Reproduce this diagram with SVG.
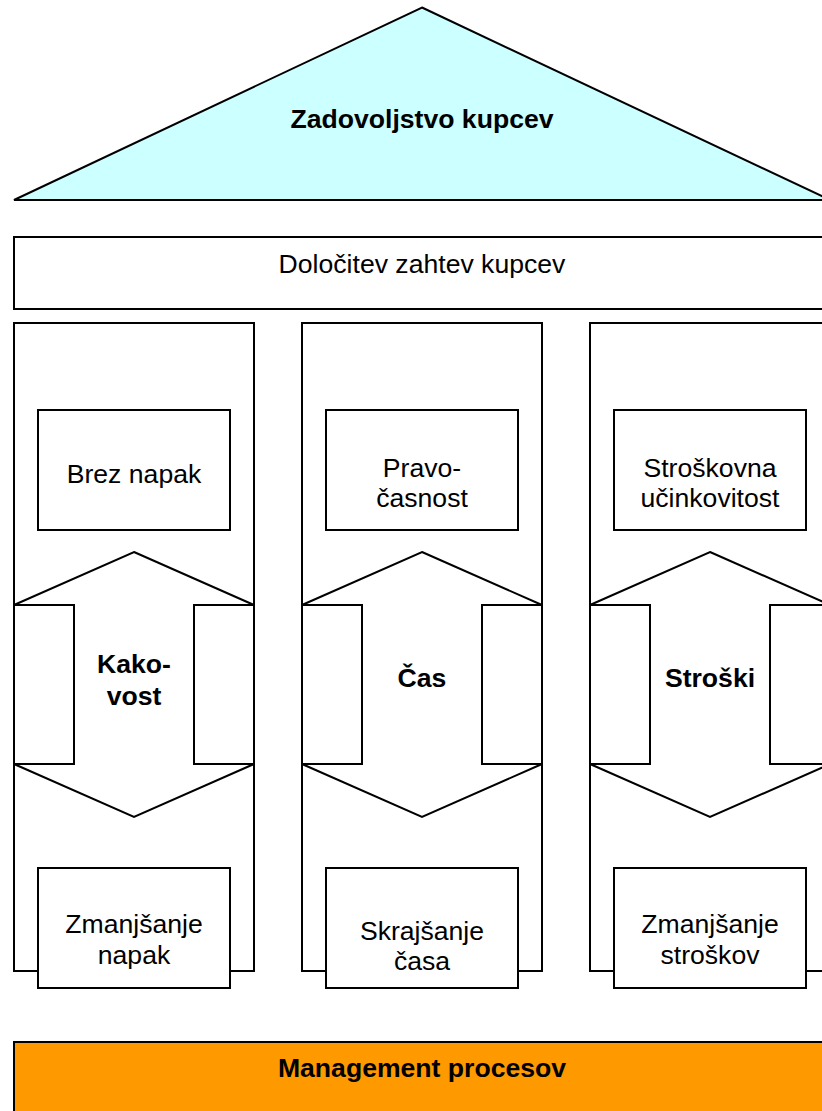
<svg xmlns="http://www.w3.org/2000/svg" width="822" height="1111" viewBox="0 0 822 1111">
<style>
.s{stroke:#000;stroke-width:2;fill:#fff}
.t{font-family:"Liberation Sans",Arial,sans-serif;font-size:26.6px;fill:#000;text-anchor:middle}
.b{font-weight:bold}
</style>
<rect width="822" height="1111" fill="#fff"/>
<g id="roof">
<polygon points="422,7.5 830,200 14,200" fill="#CCFFFF" stroke="#000" stroke-width="2"/>
<text class="t b" x="422" y="128">Zadovoljstvo kupcev</text>
</g>
<g id="requirements">
<rect class="s" x="14" y="237" width="830" height="72"/>
<text class="t" x="422" y="273">Določitev zahtev kupcev</text>
</g>
<g id="pillar-quality">
<rect class="s" x="14" y="323" width="240" height="648"/>
<polygon class="s" points="134,552 254,605 194,605 194,764 254,764 134,817 14,764 74,764 74,605 14,605"/>
<text class="t b" x="134" y="673">Kako-</text>
<text class="t b" x="134" y="705">vost</text>
</g>
<g id="box-brez-napak">
<rect class="s" x="38" y="410" width="192" height="120"/>
<text class="t" x="134" y="483">Brez napak</text>
</g>
<g id="box-zmanjsanje-napak">
<rect class="s" x="38" y="868" width="192" height="120"/>
<text class="t" x="134" y="933">Zmanjšanje</text>
<text class="t" x="134" y="964">napak</text>
</g>
<g id="pillar-time">
<rect class="s" x="302" y="323" width="240" height="648"/>
<polygon class="s" points="422,552 542,605 482,605 482,764 542,764 422,817 302,764 362,764 362,605 302,605"/>
<text class="t b" x="422" y="687">Čas</text>
</g>
<g id="box-pravocasnost">
<rect class="s" x="326" y="410" width="192" height="120"/>
<text class="t" x="422" y="477">Pravo-</text>
<text class="t" x="422" y="507">časnost</text>
</g>
<g id="box-skrajsanje-casa">
<rect class="s" x="326" y="868" width="192" height="120"/>
<text class="t" x="422" y="940">Skrajšanje</text>
<text class="t" x="422" y="970">časa</text>
</g>
<g id="pillar-cost">
<rect class="s" x="590" y="323" width="240" height="648"/>
<polygon class="s" points="710,552 830,605 770,605 770,764 830,764 710,817 590,764 650,764 650,605 590,605"/>
<text class="t b" x="710" y="687">Stroški</text>
</g>
<g id="box-stroskovna-ucinkovitost">
<rect class="s" x="614" y="410" width="192" height="120"/>
<text class="t" x="710" y="477">Stroškovna</text>
<text class="t" x="710" y="507">učinkovitost</text>
</g>
<g id="box-zmanjsanje-stroskov">
<rect class="s" x="614" y="868" width="192" height="120"/>
<text class="t" x="710" y="933">Zmanjšanje</text>
<text class="t" x="710" y="964">stroškov</text>
</g>
<g id="foundation">
<rect x="14" y="1042" width="830" height="100" fill="#FF9900" stroke="#000" stroke-width="2"/>
<text class="t b" x="422" y="1077">Management procesov</text>
</g>
<g id="connectors"></g>
</svg>
